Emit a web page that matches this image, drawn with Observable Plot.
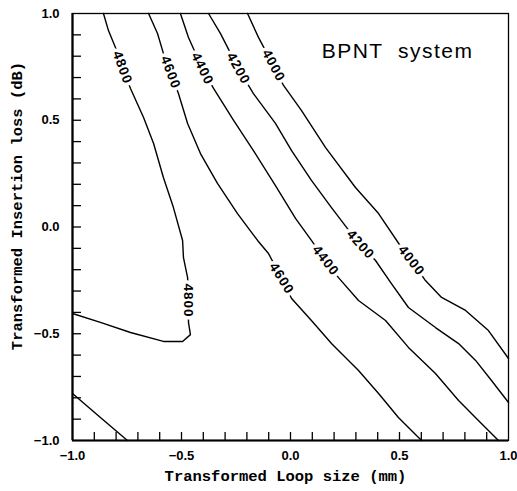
<!DOCTYPE html>
<html>
<head>
<meta charset="utf-8">
<script src="https://cdn.jsdelivr.net/npm/d3@7"></script>
<script src="https://cdn.jsdelivr.net/npm/@observablehq/plot@0.6"></script>
<style>
  html, body { margin: 0; padding: 0; background: white; }
</style>
</head>
<body>
<div id="chart"></div>
<script>
// Contour lines (transformed loop size, transformed insertion loss)
const contour5000 = [[-1.0,-0.780],[-0.872,-0.892],[-0.748,-1.0]];
const contour4800 = [[-0.858,1.0],[-0.835,0.920],[-0.803,0.841],[-0.771,0.747],[-0.734,0.649],[-0.674,0.513],[-0.628,0.391],[-0.583,0.232],[-0.537,0.091],[-0.495,-0.063],[-0.491,-0.143],[-0.472,-0.237],[-0.468,-0.344],[-0.468,-0.447],[-0.459,-0.504],[-0.495,-0.536],[-0.583,-0.536],[-0.734,-0.494],[-0.872,-0.447],[-1.0,-0.405]];
const contour4600 = [[-0.651,1.0],[-0.610,0.906],[-0.583,0.813],[-0.550,0.724],[-0.514,0.625],[-0.472,0.485],[-0.413,0.344],[-0.335,0.204],[-0.243,0.063],[-0.151,-0.063],[-0.101,-0.124],[-0.041,-0.241],[0.005,-0.335],[0.096,-0.438],[0.188,-0.546],[0.312,-0.672],[0.404,-0.780],[0.495,-0.892],[0.601,-1.0]];
const contour4400 = [[-0.505,1.0],[-0.468,0.888],[-0.404,0.742],[-0.353,0.649],[-0.261,0.499],[-0.170,0.358],[-0.069,0.194],[0.023,0.040],[0.096,-0.063],[0.161,-0.157],[0.220,-0.237],[0.312,-0.344],[0.436,-0.438],[0.541,-0.564],[0.665,-0.686],[0.771,-0.813],[0.862,-0.906],[0.954,-1.0]];
const contour4200 = [[-0.376,1.0],[-0.321,0.906],[-0.239,0.742],[-0.170,0.625],[-0.069,0.485],[0.005,0.358],[0.096,0.218],[0.188,0.091],[0.257,-0.002],[0.321,-0.082],[0.390,-0.157],[0.463,-0.265],[0.541,-0.377],[0.665,-0.471],[0.771,-0.546],[0.849,-0.625],[0.922,-0.719],[1.0,-0.822]];
const contour4000 = [[-0.197,1.0],[-0.147,0.888],[-0.078,0.756],[-0.032,0.663],[0.050,0.546],[0.161,0.372],[0.298,0.185],[0.404,0.063],[0.509,-0.096],[0.555,-0.157],[0.619,-0.251],[0.693,-0.330],[0.803,-0.391],[0.908,-0.485],[1.0,-0.616]];

// Contour labels
const labelValues = [4800, 4800, 4600, 4600, 4400, 4400, 4200, 4200, 4000, 4000];
const labelX = [-0.771, -0.468, -0.550, -0.041, -0.404, 0.161, -0.239, 0.321, -0.078, 0.555];
const labelY = [0.747, -0.344, 0.724, -0.241, 0.742, -0.157, 0.742, -0.082, 0.756, -0.157];
const labelAngle = [70, 90, 69, 58, 64, 52, 61, 48, 62, 52];

// Axis ticks
const majorTicks = [-1.0, -0.5, 0.0, 0.5, 1.0];
const minorTicks = [-0.9,-0.8,-0.7,-0.6,-0.5,-0.4,-0.3,-0.2,-0.1,0,0.1,0.2,0.3,0.4,0.5,0.6,0.7,0.8,0.9];

const titleText = "BPNT  system";
const xLabel = "Transformed Loop size (mm)";
const yLabel = "Transformed Insertion loss (dB)";

const contours = [
  ["5000", contour5000], ["4800", contour4800], ["4600", contour4600],
  ["4400", contour4400], ["4200", contour4200], ["4000", contour4000]
];
const lineData = contours.flatMap(([level, pts]) => pts.map(([x, y]) => ({level, x, y})));
const labelData = labelValues.map((v, i) => ({v: String(v), x: labelX[i], y: labelY[i], a: labelAngle[i]}));

const fmt = d3.format(".1f");
const tickFont = {fontFamily: "Liberation Sans", fontWeight: "bold", fontSize: 13};
const monoFont = {fontFamily: "Liberation Mono", fontWeight: "bold", fontSize: 15.5};

const chart = Plot.plot({
  width: 517,
  height: 491,
  marginLeft: 72,
  marginRight: 9,
  marginTop: 13,
  marginBottom: 51,
  style: {fontFamily: "Liberation Sans", background: "white", color: "black"},
  x: {domain: [-1, 1], label: null},
  y: {domain: [-1, 1], label: null},
  marks: [
    Plot.line(lineData, {x: "x", y: "y", z: "level", stroke: "black", strokeWidth: 1.4}),
    Plot.text(labelData, {x: "x", y: "y", text: "v", rotate: "a", stroke: "white", strokeWidth: 7, fill: "black",
      fontFamily: "Liberation Sans", fontWeight: "bold", fontSize: 13.5}),
    // inward minor ticks
    Plot.tickX(minorTicks, {x: d => d, insetTop: 419, stroke: "black", strokeWidth: 1.3}),
    Plot.tickY(minorTicks, {y: d => d, insetRight: 427, stroke: "black", strokeWidth: 1.3}),
    // frame
    Plot.frame({stroke: "black", strokeWidth: 1.3}),
    Plot.ruleX([-1], {stroke: "black", strokeWidth: 2.2}),
    Plot.ruleY([-1], {stroke: "black", strokeWidth: 2.2}),
    // tick labels
    Plot.axisX({ticks: majorTicks, tickSize: 0, tickPadding: 10, tickFormat: fmt, label: null, ...tickFont}),
    Plot.axisY({ticks: majorTicks, tickSize: 0, tickPadding: 13, tickFormat: fmt, label: null, ...tickFont}),
    // title
    Plot.text([titleText], {frameAnchor: "top-right", textAnchor: "end", dx: -35, dy: 30,
      fontFamily: "Liberation Sans", fontSize: 21, fill: "black"}),
    // axis labels
    Plot.text([xLabel], {frameAnchor: "bottom", textAnchor: "middle", dx: -5, dy: 40, fill: "black", ...monoFont}),
    Plot.text([yLabel], {frameAnchor: "left", textAnchor: "middle", dx: -55, dy: -21, rotate: -90, fill: "black", ...monoFont})
  ]
});

const labelSet = new Set(labelValues.map(String));
chart.querySelectorAll("text").forEach(t => {
  if (t.textContent === titleText) {
    t.style.whiteSpace = "pre";
    t.setAttribute("xml:space", "preserve");
    t.style.letterSpacing = "1.5px";
  } else if (labelSet.has(t.textContent)) {
    t.style.letterSpacing = "1px";
  }
});

document.getElementById("chart").appendChild(chart);
</script>
</body>
</html>
